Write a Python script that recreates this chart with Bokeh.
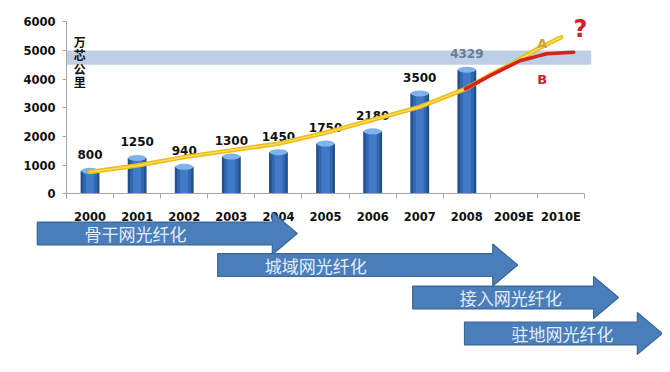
from bokeh.plotting import figure
from bokeh.models import Range1d, FixedTicker, ColumnDataSource
from bokeh.core.properties import value
from bokeh.embed import file_html
from bokeh.resources import INLINE

# ---------------- data ----------------
tick_labels = ["2000", "2001", "2002", "2003", "2004", "2005", "2006",
               "2007", "2008", "2009E", "2010E"]
years = tick_labels[:9]
fiber_km = [800, 1250, 940, 1300, 1450, 1750, 2180, 3500, 4329]
unit_label = "万芯公里"

band_low, band_high = 4500, 5000

# trend A (yellow) and trend B (red), x in category units
trend_a_x = [0.5, 1.5, 2.5, 3.5, 4.5, 5.5, 6.5, 7.5, 8.5, 9.0, 9.5, 10.0, 10.5]
trend_a_y = [760, 985, 1280, 1515, 1750, 2130, 2580, 3030, 3680, 4150, 4570, 5050, 5460]
trend_b_x = [8.47, 9.07, 9.64, 9.92, 10.2, 10.77]
trend_b_y = [3660, 4185, 4650, 4765, 4885, 4940]

phase_names = ["骨干网光纤化", "城域网光纤化", "接入网光纤化", "驻地网光纤化"]
phase_start = [-0.62, 3.21, 7.35, 8.45]
phase_end = [4.90, 9.58, 11.72, 12.65]

# ---------------- figure ----------------
p = figure(width=662, height=364,
           x_range=Range1d(-1.401, 12.654), y_range=Range1d(-5954, 6742),
           output_backend="svg", toolbar_location=None, min_border=0)
p.outline_line_color = None
p.background_fill_color = "white"
p.grid.visible = False

n_cat = len(tick_labels)
centers = [i + 0.5 for i in range(n_cat)]
bounds_x = [float(i) for i in range(n_cat + 1)]

# x axis at y = 0
xa = p.xaxis[0]
xa.fixed_location = 0
xa.bounds = (0, n_cat)
xa.ticker = FixedTicker(ticks=centers, minor_ticks=bounds_x)
xa.major_label_overrides = {c: lab for c, lab in zip(centers, tick_labels)}
xa.major_tick_out = 0
xa.major_tick_in = 0
xa.minor_tick_out = 5
xa.minor_tick_in = 0
xa.minor_tick_line_color = "#a6a6a6"
xa.axis_line_color = "#a6a6a6"
xa.major_label_standoff = 11
xa.major_label_text_font = "DejaVu Sans"
xa.major_label_text_font_style = "bold"
xa.major_label_text_font_size = "11.5px"
xa.major_label_text_color = "#111111"

# y axis at x = 0
ya = p.yaxis[0]
ya.fixed_location = 0
ya.bounds = (0, 6000)
ya.ticker = FixedTicker(ticks=[0, 1000, 2000, 3000, 4000, 5000, 6000])
ya.major_tick_out = 4
ya.major_tick_in = 0
ya.minor_tick_out = 0
ya.minor_tick_in = 0
ya.axis_line_color = "#a6a6a6"
ya.major_tick_line_color = "#a6a6a6"
ya.major_label_standoff = 7
ya.major_label_text_font = "DejaVu Sans"
ya.major_label_text_font_style = "bold"
ya.major_label_text_font_size = "11.5px"
ya.major_label_text_color = "#111111"

# target band
p.quad(left=0, right=11.14, bottom=band_low, top=band_high,
       fill_color="#bccfe6", line_color=None)

# bars (layered for a cylinder look)
bar_x = centers[:len(years)]
src = ColumnDataSource(dict(x=bar_x, top=fiber_km,
                            label=[str(v) for v in fiber_km],
                            color=["#111111"] * (len(years) - 1) + ["#6a7b98"]))
p.vbar(x="x", top="top", width=0.40, source=src, fill_color="#22508c", line_color=None)
p.vbar(x="x", top="top", width=0.30, source=src, fill_color="#3167ae", line_color=None)
p.vbar(x="x", top="top", width=0.17, source=src, fill_color="#417bc8", line_color=None)
p.ellipse(x="x", y="top", width=0.38, height=6, height_units="screen", source=src,
          fill_color="#7fb1ea", line_color=None)

p.text(x="x", y="top", text="label", source=src, text_color="color",
       text_font=value("DejaVu Sans"), text_font_style="bold",
       text_font_size="12px", text_align="center", text_baseline="middle",
       y_offset=-16)

# unit label
p.text(x=[0.28], y=[5620], text=["\n".join(unit_label)],
       text_font=value("Noto Sans CJK SC"), text_font_style="bold",
       text_font_size="12px", text_align="center", text_baseline="top",
       text_line_height=0.8, text_color="#111111")

# trend lines
p.line(trend_a_x, trend_a_y, line_color="#eebb14", line_width=4.5, line_cap="round")
p.line(trend_a_x, trend_a_y, line_color="#f8dc63", line_width=1.5, line_cap="round")
p.line(trend_b_x, trend_b_y, line_color="#d6221b", line_width=3.5, line_cap="round")

p.text(x=[10.1], y=[5250], text=["A"], text_color="#c9a62e",
       text_font=value("DejaVu Sans"), text_font_style="bold",
       text_font_size="13px", text_align="center", text_baseline="middle")
p.text(x=[10.1], y=[3975], text=["B"], text_color="#d42020",
       text_font=value("DejaVu Sans"), text_font_style="bold",
       text_font_size="13px", text_align="center", text_baseline="middle")
p.text(x=[10.91], y=[5760], text=["?"], text_color="#d42020",
       text_font=value("DejaVu Sans"), text_font_style="bold",
       text_font_size="24px", text_align="center", text_baseline="middle")

# phase arrows
row_centers = [-1385, -2484, -3617, -4872]
body_half = 400
head_half = 730
head_len = 0.53
xs, ys = [], []
for s, e, yc in zip(phase_start, phase_end, row_centers):
    b = e - head_len
    xs.append([s, b, b, e, b, b, s])
    ys.append([yc + body_half, yc + body_half, yc + head_half, yc,
               yc - head_half, yc - body_half, yc - body_half])
for i in range(len(xs)):
    p.patch(xs[i], ys[i], fill_color="#4a7ebb", line_color="#3a6799",
            line_width=1.2, level="annotation")
p.text(x=[s + 1.0 for s in phase_start], y=row_centers, text=phase_names,
       text_color="#e4ecf7", text_font=value("Noto Sans CJK SC"),
       text_font_size="17px", text_align="left", text_baseline="middle",
       level="overlay")

open("out.html", "w").write(file_html(p, INLINE))
